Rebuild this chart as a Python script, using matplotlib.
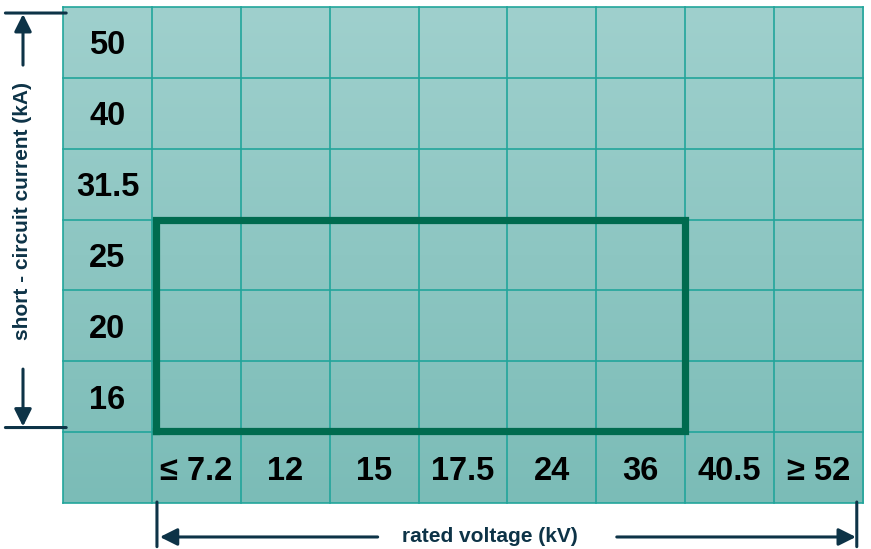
import numpy as np
import matplotlib
matplotlib.use('Agg')
import matplotlib.pyplot as plt
from matplotlib.colors import LinearSegmentedColormap

plt.rcParams['font.family'] = ['Liberation Sans', 'DejaVu Sans']

# short-circuit current rows (top -> bottom) and rated voltage columns
CURRENTS = ['50', '40', '31.5', '25', '20', '16']
VOLTAGES = ['≤ 7.2', '12', '15', '17.5', '24', '36', '40.5', '≥ 52']
# highlighted range: voltage columns 1..6, current rows 16..25
HL_VOLT = (0, 6)     # index span in VOLTAGES
HL_CURR = (3, 6)     # index span in CURRENTS

X_LABEL = 'rated voltage (kV)'
Y_LABEL = 'short - circuit current (kA)'

NAVY = '#0d3347'
GRID = '#22a59b'
BOX = '#006b4f'

ncol = len(VOLTAGES) + 1
nrow = len(CURRENTS) + 1

fig = plt.figure(figsize=(8.71, 5.49), dpi=100)
ax = fig.add_axes([63 / 871, 46 / 549, 800 / 871, 496 / 549])
ax.set_xlim(0, ncol)
ax.set_ylim(0, nrow)
ax.axis('off')

# gradient cell background
cmap = LinearSegmentedColormap.from_list('bg', ['#7bbcb7', '#9fd0cd'])
grad = np.linspace(0, 1, 256).reshape(-1, 1)
ax.imshow(grad, extent=[0, ncol, 0, nrow], origin='lower', aspect='auto',
          cmap=cmap, zorder=0)

for i in range(ncol + 1):
    ax.plot([i, i], [0, nrow], color=GRID, lw=1.2, zorder=1, clip_on=False)
for j in range(nrow + 1):
    ax.plot([0, ncol], [j, j], color=GRID, lw=1.2, zorder=1, clip_on=False)

# row labels (current) in first column
for k, lab in enumerate(CURRENTS):
    y = nrow - k - 0.5 - 0.05
    ax.text(0.5, y, lab, ha='center', va='center', fontsize=23.5,
            fontweight='bold', color='black')
# column labels (voltage) in bottom row
for k, lab in enumerate(VOLTAGES):
    ax.text(k + 1.5, 0.5 - 0.05, lab, ha='center', va='center', fontsize=23.5,
            fontweight='bold', color='black')

# highlighted region
x0 = HL_VOLT[0] + 1.05
x1 = HL_VOLT[1] + 1
y_top = nrow - HL_CURR[0]
y_bot = nrow - HL_CURR[1] + 0.02
ax.plot([x0, x1, x1, x0, x0], [y_bot, y_bot, y_top, y_top, y_bot],
        color=BOX, lw=5.2, solid_joinstyle='miter', zorder=3)

arrow = dict(arrowstyle='-|>', mutation_scale=26, lw=2.2, color=NAVY,
             shrinkA=0, shrinkB=0)

# vertical dimension arrows (left)
yc = ('axes fraction', 'data')
ax.annotate('', xy=(-0.05, 6.90), xytext=(-0.05, 6.18), xycoords=yc,
            textcoords=yc, arrowprops=arrow, annotation_clip=False)
ax.annotate('', xy=(-0.05, 1.08), xytext=(-0.05, 1.89), xycoords=yc,
            textcoords=yc, arrowprops=arrow, annotation_clip=False)
for yy in (6.915, 1.065):
    ax.annotate('', xy=(-0.072, yy), xytext=(0.004, yy), xycoords=yc,
                textcoords=yc, annotation_clip=False,
                arrowprops=dict(arrowstyle='-', lw=2.2, color=NAVY,
                                shrinkA=0, shrinkB=0))
ax.annotate(Y_LABEL, xy=(-0.051, 4.12), xycoords=yc, rotation=90,
            ha='center', va='center', fontsize=15, fontweight='bold',
            color=NAVY, annotation_clip=False)

# horizontal dimension arrows (bottom)
xc = ('data', 'axes fraction')
ax.annotate('', xy=(1.09, -0.0685), xytext=(3.54, -0.0685), xycoords=xc,
            textcoords=xc, arrowprops=arrow, annotation_clip=False)
ax.annotate('', xy=(8.92, -0.0685), xytext=(6.23, -0.0685), xycoords=xc,
            textcoords=xc, arrowprops=arrow, annotation_clip=False)
for xx in (1.057, 8.93):
    ax.annotate('', xy=(xx, 0.002), xytext=(xx, -0.088), xycoords=xc,
                textcoords=xc, annotation_clip=False,
                arrowprops=dict(arrowstyle='-', lw=2.2, color=NAVY,
                                shrinkA=0, shrinkB=0))
ax.annotate(X_LABEL, xy=(4.80, -0.0685), xycoords=xc, ha='center',
            va='center', fontsize=15, fontweight='bold', color=NAVY,
            annotation_clip=False)

fig.savefig('out.png', dpi=100)
